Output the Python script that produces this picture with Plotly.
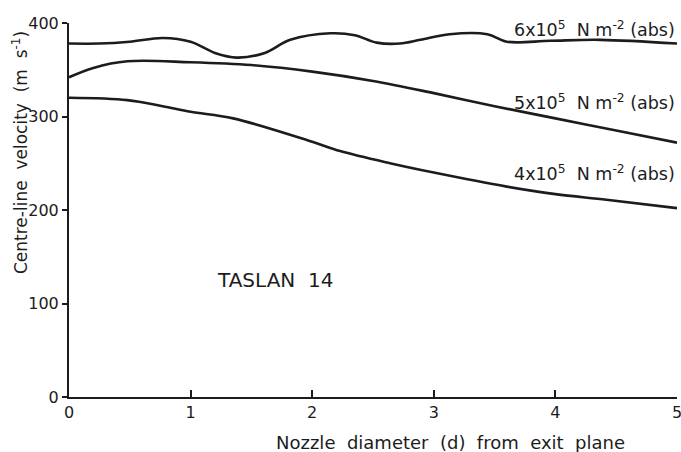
import plotly.graph_objects as go

# Data
x6 = [0, 0.25, 0.5, 0.77, 1.0, 1.2, 1.38, 1.61, 1.82, 2.15, 2.35, 2.53, 2.72, 2.89, 3.13, 3.44, 3.6, 3.96, 4.37, 5.0]
y6 = [378, 378, 380, 384, 380, 368, 363, 368, 382, 389, 387, 379, 378, 382, 388, 388, 380, 381, 382, 378]

x5 = [0, 0.2, 0.48, 1.0, 1.5, 2.0, 2.5, 3.0, 3.5, 4.0, 4.5, 5.0]
y5 = [342, 352, 359, 358, 355, 348, 338, 325, 311, 298, 285, 272]

x4 = [0, 0.48, 0.77, 1.0, 1.35, 2.0, 2.23, 2.64, 3.0, 3.6, 4.0, 4.42, 5.0]
y4 = [320, 317.5, 311, 305, 298, 273, 263, 250, 240, 225, 217, 211, 202]

labels = ["6x10<sup>5</sup>  N m<sup>-2</sup> (abs)",
          "5x10<sup>5</sup>  N m<sup>-2</sup> (abs)",
          "4x10<sup>5</sup>  N m<sup>-2</sup> (abs)"]
label_y = [394, 316, 240]

x_ticks = [0, 1, 2, 3, 4, 5]
y_ticks = [0, 100, 200, 300, 400]

ink = "#1c1c1c"
font = "DejaVu Sans"

fig = go.Figure()
for xs, ys in [(x6, y6), (x5, y5), (x4, y4)]:
    fig.add_trace(go.Scatter(x=xs, y=ys, mode="lines",
                             line=dict(color=ink, width=2.6, shape="spline", smoothing=1.0),
                             showlegend=False, hoverinfo="skip"))

for txt, yy in zip(labels, label_y):
    fig.add_annotation(x=5, y=yy, xref="x", yref="y", text=txt, showarrow=False,
                       xanchor="right", yanchor="middle",
                       font=dict(family=font, size=17.5, color=ink))

fig.add_annotation(x=1.69, y=125, xref="x", yref="y", text="TASLAN  14", showarrow=False,
                   xanchor="center", yanchor="middle",
                   font=dict(family=font, size=20, color=ink))

fig.add_annotation(x=-0.0806, y=0.655, xref="paper", yref="paper",
                   text="Centre-line  velocity  (m  s<sup>-1</sup>)", showarrow=False,
                   textangle=-90, xanchor="center", yanchor="middle",
                   font=dict(family=font, size=17, color=ink))

fig.add_annotation(x=0.627, y=-0.122, xref="paper", yref="paper",
                   text="Nozzle  diameter  (d)  from  exit  plane", showarrow=False,
                   xanchor="center", yanchor="middle",
                   font=dict(family=font, size=18, color=ink))

fig.update_layout(
    width=681, height=452,
    margin=dict(l=69, r=4, t=23, b=55, autoexpand=False),
    paper_bgcolor="white", plot_bgcolor="white",
    xaxis=dict(range=[0, 5], tickvals=x_ticks, ticktext=[str(v) for v in x_ticks],
               showgrid=False, zeroline=False, showline=True, linecolor=ink, linewidth=2,
               ticks="inside", ticklen=7, tickwidth=2, tickcolor=ink,
               ticklabeloverflow="allow", automargin=False,
               tickfont=dict(family=font, size=16, color=ink)),
    yaxis=dict(range=[0, 400], tickvals=y_ticks, ticktext=[str(v) for v in y_ticks],
               showgrid=False, zeroline=False, showline=True, linecolor=ink, linewidth=2,
               ticks="outside", ticklen=5, tickwidth=2, tickcolor=ink,
               ticklabeloverflow="allow", automargin=False,
               tickfont=dict(family=font, size=16, color=ink)),
)

# remove the page's default body margin so the figure fills the window exactly
fig.write_html("out.html",
               config={"displayModeBar": False},
               post_script="document.body.style.margin='0';document.body.style.overflow='hidden';")
